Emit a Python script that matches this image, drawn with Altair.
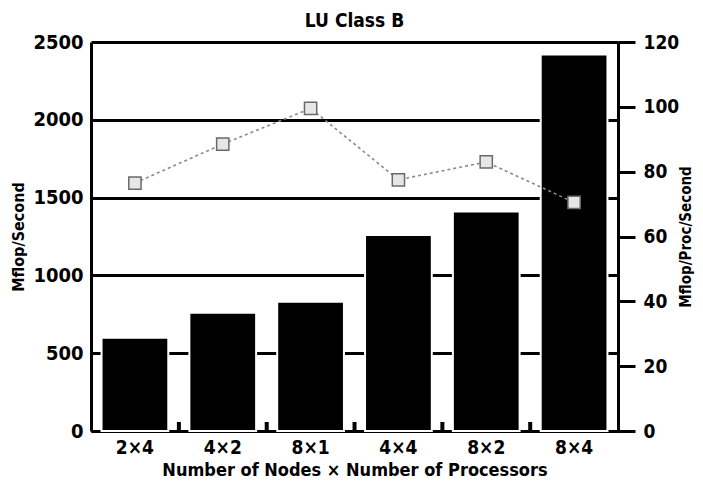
import altair as alt
import pandas as pd

categories = ["2×4", "4×2", "8×1", "4×4", "8×2", "8×4"]
mflop_total = [600, 760, 830, 1260, 1410, 2420]
mflop_per_proc = [76.5, 88.5, 99.5, 77.5, 83, 70.5]
stub_categories = categories[1:]

FONT = "'DejaVu Sans Condensed', 'Liberation Sans Narrow', 'DejaVu Sans', sans-serif"

df = pd.DataFrame({"cat": categories, "total": mflop_total, "per": mflop_per_proc})
stubs = pd.DataFrame({"cat": stub_categories})

W, H = 527, 389

xenc = alt.X(
    "cat:N", sort=categories,
    scale=alt.Scale(paddingInner=0.24, paddingOuter=0.12),
    axis=alt.Axis(
        title="Number of Nodes × Number of Processors",
        labelAngle=0, ticks=False, domain=True, domainColor="black", domainWidth=3,
        labelFont=FONT, labelFontSize=19, labelFontWeight="bold", labelColor="black",
        labelPadding=7,
        titleFont=FONT, titleFontSize=18, titleFontWeight="bold", titleColor="black",
        titleY=39, titleBaseline="middle",
    ),
)

right_axis = alt.Axis(
    title="Mflop/Proc/Second", values=[0, 20, 40, 60, 80, 100, 120], format="d",
    orient="right", ticks=True, tickSize=17, tickWidth=3, tickColor="black",
    grid=False, domainColor="black", domainWidth=3,
    labelFont=FONT, labelFontSize=19, labelFontWeight="bold", labelColor="black",
    labelPadding=8,
    titleFont=FONT, titleFontSize=15, titleFontWeight="bold", titleColor="black",
    titleX=67, titleY=H / 2, titleAngle=270, titleBaseline="middle", titleAlign="center",
)

bars = alt.Chart(df).mark_bar(color="black", stroke="white", strokeWidth=2).encode(
    x=xenc,
    y=alt.Y(
        "total:Q",
        scale=alt.Scale(domain=[0, 2500], nice=False),
        axis=alt.Axis(
            title="Mflop/Second", values=[0, 500, 1000, 1500, 2000, 2500], format="d",
            orient="left", ticks=False, grid=True, gridColor="black", gridWidth=3, gridOpacity=1,
            domainColor="black", domainWidth=3,
            labelFont=FONT, labelFontSize=20, labelFontWeight="bold", labelColor="black",
            labelPadding=8,
            titleFont=FONT, titleFontSize=16, titleFontWeight="bold", titleColor="black",
            titleX=-73, titleY=H / 2, titleAngle=270, titleBaseline="middle", titleAlign="center",
        ),
    ),
)

stub_rules = alt.Chart(stubs).mark_rule(color="black", strokeWidth=4, xOffset=-10.5).encode(
    x=alt.X("cat:N", sort=categories, bandPosition=0),
    y=alt.value(H - 9),
    y2=alt.value(H),
)

line = alt.Chart(df).mark_line(color="#8a8a8a", strokeWidth=1.6, strokeDash=[3, 3]).encode(
    x=alt.X("cat:N", sort=categories),
    y=alt.Y("per:Q", scale=alt.Scale(domain=[0, 120], nice=False), axis=right_axis),
)

points = alt.Chart(df).mark_square(size=150, fill="#e6e6e6", stroke="#6a6a6a", strokeWidth=1.5, opacity=1).encode(
    x=alt.X("cat:N", sort=categories),
    y=alt.Y("per:Q", scale=alt.Scale(domain=[0, 120], nice=False), axis=right_axis),
)

chart = (
    alt.layer(alt.layer(bars, stub_rules), alt.layer(line, points))
    .resolve_scale(y="independent")
    .properties(
        width=W, height=H,
        title=alt.TitleParams("LU Class B", font=FONT, fontSize=19, fontWeight="bold",
                              color="black", anchor="middle", offset=1),
        autosize=alt.AutoSizeParams(type="none"),
        padding={"left": 83, "top": 34, "right": 77, "bottom": 49},
    )
    .configure_view(stroke=None)
    .configure(background="white")
)

chart.save("out.html", embed_options={"renderer": "svg", "actions": False})
